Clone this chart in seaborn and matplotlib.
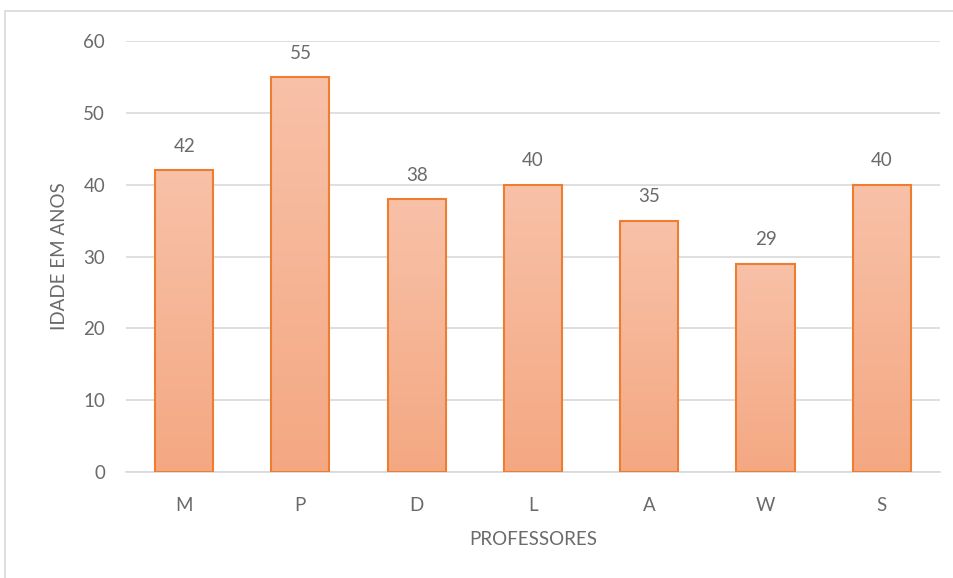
import numpy as np
import pandas as pd
import matplotlib
matplotlib.use("Agg")
import matplotlib.pyplot as plt
import seaborn as sns
from matplotlib.colors import LinearSegmentedColormap
from matplotlib.patches import Rectangle

professores = ["M", "P", "D", "L", "A", "W", "S"]
idades = [42, 55, 38, 40, 35, 29, 40]
yticks = [0, 10, 20, 30, 40, 50, 60]

sns.set_theme(style="white")
plt.rcParams["font.family"] = ["Lato", "DejaVu Sans"]
TXT = "#6A6A6A"
FS = 13.5

W, H = 954, 578
fig = plt.figure(figsize=(W / 100, H / 100), dpi=100)
ax = fig.add_axes([126 / W, 1 - 472 / H, (940 - 126) / W, (472 - 41) / H])

df = pd.DataFrame({"prof": professores, "idade": idades})
sns.barplot(data=df, x="prof", y="idade", ax=ax, width=0.5,
            color="#F5B090", edgecolor="#ED7D31", linewidth=1.5, saturation=1, zorder=3)

cmap = LinearSegmentedColormap.from_list("g", ["#F4A882", "#F8C1A8"])
grad = np.linspace(0, 1, 256).reshape(-1, 1)
for p in ax.patches:
    x0, y0 = p.get_x(), p.get_y()
    w, h = p.get_width(), p.get_height()
    im = ax.imshow(grad, cmap=cmap, origin="lower", aspect="auto",
                   extent=[x0, x0 + w, y0, y0 + h], zorder=3.5)
    im.set_clip_path(p)
    p.set_facecolor("none")
    p.set_zorder(4)

ax.set_xlim(-0.5, len(professores) - 0.5)
ax.set_ylim(0, 60)
ax.set_yticks(yticks)
ax.yaxis.grid(True, color="#D9D9D9", linewidth=1.2, zorder=0)
ax.set_axisbelow(True)
for s in ["left", "right", "top"]:
    ax.spines[s].set_visible(False)
ax.spines["bottom"].set_color("#D9D9D9")
ax.spines["bottom"].set_linewidth(1.2)
ax.tick_params(axis="both", length=0, colors=TXT, labelsize=FS)
ax.tick_params(axis="y", pad=15)
ax.tick_params(axis="x", pad=18)

for i, v in enumerate(idades):
    ax.annotate(str(v), (i, v), xytext=(0, 11), textcoords="offset points",
                ha="center", va="bottom", color=TXT, fontsize=FS)

ax.set_xlabel("PROFESSORES", color=TXT, fontsize=FS, labelpad=12)
ax.set_ylabel("IDADE EM ANOS", color=TXT, fontsize=FS, labelpad=11)

fig.patches.append(Rectangle((5 / W, -0.1), 2, 1.1 - 11 / H,
                             transform=fig.transFigure, fill=False,
                             edgecolor="#D9D9D9", linewidth=1.2))
fig.savefig("out.png", dpi=100)
